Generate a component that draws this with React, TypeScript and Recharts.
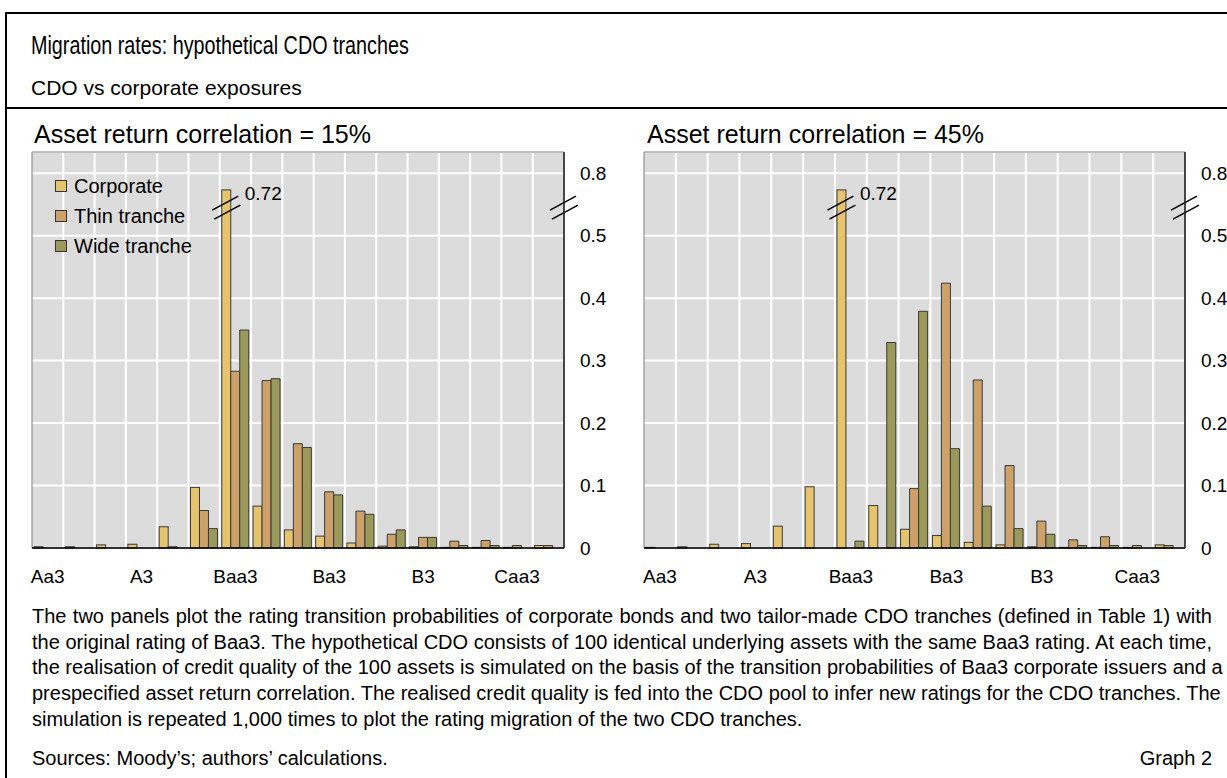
import React from 'react';
import { BarChart, Bar, XAxis, YAxis, CartesianGrid, Legend, ReferenceArea, ReferenceLine, LabelList } from 'recharts';

// rating notches after one year, starting from Baa3
const ratings = ['Aa3', 'A1', 'A2', 'A3', 'Baa1', 'Baa2', 'Baa3', 'Ba1', 'Ba2', 'Ba3', 'B1', 'B2', 'B3', 'Caa1', 'Caa2', 'Caa3', 'Ca-C'];

// asset return correlation = 15%
const corporate15 = [0.002, 0.002, 0.005, 0.006, 0.034, 0.097, 0.72, 0.067, 0.029, 0.019, 0.008, 0.003, 0.002, 0.001, 0.001, 0.001, 0.004];
const thin15 = [0, 0, 0, 0, 0.002, 0.06, 0.283, 0.268, 0.167, 0.09, 0.059, 0.022, 0.017, 0.011, 0.012, 0.004, 0.004];
const wide15 = [0, 0, 0, 0, 0, 0.031, 0.349, 0.271, 0.161, 0.085, 0.054, 0.029, 0.017, 0.004, 0.004, 0, 0];

// asset return correlation = 45%
const corporate45 = [0.001, 0.002, 0.006, 0.007, 0.035, 0.098, 0.72, 0.068, 0.03, 0.02, 0.009, 0.005, 0.002, 0.001, 0.001, 0.001, 0.005];
const thin45 = [0, 0, 0, 0, 0, 0, 0, 0, 0.095, 0.424, 0.269, 0.132, 0.043, 0.013, 0.018, 0.004, 0.004];
const wide45 = [0, 0, 0, 0, 0, 0, 0.011, 0.329, 0.379, 0.159, 0.067, 0.031, 0.022, 0.004, 0.004, 0, 0];

const yTickValues = [0, 0.1, 0.2, 0.3, 0.4, 0.5, 0.8];
const xTickEvery = 3;

const series = [
  { key: 'corporate', name: 'Corporate', color: '#e6c46e' },
  { key: 'thin', name: 'Thin tranche', color: '#cca26a' },
  { key: 'wide', name: 'Wide tranche', color: '#9c9a5a' },
];

const FONT = '"Liberation Sans", Arial, Helvetica, sans-serif';
const PLOT_BG = '#dcdcdc';
const BAR_EDGE = '#3a3a3a';

// broken axis: 0.5 -> 0.8 squeezed into one grid step
const AXIS_BREAK = 0.5;
const SQUEEZE = 3;
const BREAK_MARK = 0.545;
const Y_TOP = 0.634;
const brk = (v: number) => (v <= AXIS_BREAK ? v : AXIS_BREAK + (v - AXIS_BREAK) / SQUEEZE);
const unbrk = (v: number) => (v <= AXIS_BREAK ? v : AXIS_BREAK + (v - AXIS_BREAK) * SQUEEZE);
const fmtTick = (v: number) => String(Number(unbrk(v).toFixed(2)));

const buildRows = (corp: number[], thin: number[], wide: number[]) =>
  ratings.map((rating, i) => ({
    rating,
    corporate: brk(corp[i]),
    corporateRaw: corp[i],
    thin: brk(thin[i]),
    wide: brk(wide[i]),
  }));

const BreakMark = ({ cx, cy }: { cx: number; cy: number }) => (
  <g stroke="#000" strokeWidth={1.5}>
    <line x1={cx - 14} y1={cy + 2.5} x2={cx + 12} y2={cy - 11.5} />
    <line x1={cx - 12} y1={cy + 11.5} x2={cx + 14} y2={cy - 2.5} />
  </g>
);

const CorporateBar = (props: any) => {
  const { x, y, width, height, fill, payload } = props;
  if (height == null || height <= 0) return null;
  const bottom = y + height;
  const showBreak = payload && payload.corporateRaw > AXIS_BREAK;
  const breakY = showBreak ? bottom - (BREAK_MARK / payload.corporate) * height : 0;
  return (
    <g>
      <rect x={x} y={y} width={width} height={height} fill={fill} stroke={BAR_EDGE} strokeWidth={1} />
      {showBreak && <BreakMark cx={x + width / 2} cy={breakY} />}
    </g>
  );
};

const AxisBreak = (props: any) => {
  const { x1, x2, y1 } = props;
  return <BreakMark cx={Math.max(x1, x2)} cy={y1} />;
};

const PeakLabel = (props: any) => {
  const { x, y, width, value } = props;
  if (value == null || value <= AXIS_BREAK) return null;
  return (
    <text x={x + width + 14} y={y + 10} fontSize={19} fontFamily={FONT} fill="#000">
      {String(value)}
    </text>
  );
};

const LegendBlock = () => (
  <div style={{ fontFamily: FONT, fontSize: 20, color: '#000' }}>
    {series.map(s => (
      <div key={s.key} style={{ display: 'flex', alignItems: 'center', height: 30 }}>
        <span style={{ width: 10, height: 10, background: s.color, border: '1px solid #333', marginRight: 7, display: 'inline-block' }} />
        {s.name}
      </div>
    ))}
  </div>
);

interface PanelProps {
  rows: ReturnType<typeof buildRows>;
  width: number;
  marginRight: number;
  showLegend?: boolean;
}

function Panel({ rows, width, marginRight, showLegend }: PanelProps) {
  return (
    <BarChart
      width={width}
      height={480}
      data={rows}
      margin={{ top: 42, right: marginRight, bottom: 12, left: 32 }}
      barCategoryGap={2}
      barGap={0}
    >
      <CartesianGrid
        fill={PLOT_BG}
        stroke="#ffffff"
        strokeWidth={2}
        verticalCoordinatesGenerator={({ offset }: any) =>
          ratings.slice(1).map((_, i) => offset.left + ((i + 1) * offset.width) / ratings.length)
        }
      />
      <ReferenceArea y1={0} y2={Y_TOP} fill="none" stroke="#808080" strokeWidth={1} />
      <XAxis
        dataKey="rating"
        interval={xTickEvery - 1}
        tickLine={false}
        tickSize={0}
        tickMargin={22}
        height={30}
        axisLine={{ stroke: '#000', strokeWidth: 1.5 }}
        tick={{ fill: '#000', fontSize: 19, fontFamily: FONT }}
      />
      <YAxis
        orientation="right"
        type="number"
        domain={[0, Y_TOP]}
        ticks={yTickValues.map(brk)}
        tickFormatter={fmtTick}
        tickLine={false}
        tickSize={0}
        tickMargin={16}
        width={50}
        axisLine={{ stroke: '#222', strokeWidth: 1.5 }}
        tick={{ fill: '#000', fontSize: 19, fontFamily: FONT, textAnchor: 'start' }}
      />
      <ReferenceLine y={BREAK_MARK} shape={AxisBreak} />
      {showLegend && (
        <Legend
          layout="vertical"
          align="center"
          verticalAlign="middle"
          content={LegendBlock}
          wrapperStyle={{ left: 55, top: 61, width: 'auto', height: 'auto' }}
        />
      )}
      <Bar dataKey="corporate" name="Corporate" fill={series[0].color} stroke={BAR_EDGE} shape={CorporateBar} isAnimationActive={false}>
        <LabelList dataKey="corporateRaw" content={PeakLabel} />
      </Bar>
      <Bar dataKey="thin" name="Thin tranche" fill={series[1].color} stroke={BAR_EDGE} strokeWidth={1} isAnimationActive={false} />
      <Bar dataKey="wide" name="Wide tranche" fill={series[2].color} stroke={BAR_EDGE} strokeWidth={1} isAnimationActive={false} />
    </BarChart>
  );
}

const noteLines = [
  'The two panels plot the rating transition probabilities of corporate bonds and two tailor-made CDO tranches (defined in Table 1) with',
  'the original rating of Baa3. The hypothetical CDO consists of 100 identical underlying assets with the same Baa3 rating. At each time,',
  'the realisation of credit quality of the 100 assets is simulated on the basis of the transition probabilities of Baa3 corporate issuers and a',
  'prespecified asset return correlation. The realised credit quality is fed into the CDO pool to infer new ratings for the CDO tranches. The',
  'simulation is repeated 1,000 times to plot the rating migration of the two CDO tranches.',
];

export default function App() {
  const rows15 = buildRows(corporate15, thin15, wide15);
  const rows45 = buildRows(corporate45, thin45, wide45);

  return (
    <div style={{ position: 'absolute', left: 0, top: 0, width: 1227, height: 778, overflow: 'hidden', background: '#fff', fontFamily: FONT, color: '#000' }}>
      {/* frame */}
      <div style={{ position: 'absolute', left: 5, top: 12, width: 1300, height: 900, borderLeft: '2px solid #000', borderTop: '2px solid #000' }} />
      <div style={{ position: 'absolute', left: 5, top: 107, width: 1300, height: 2, background: '#000' }} />

      <div style={{ position: 'absolute', left: 31, top: 32, fontSize: 26, lineHeight: 1, whiteSpace: 'nowrap', transform: 'scaleX(0.76)', transformOrigin: 'left top' }}>
        Migration rates: hypothetical CDO tranches
      </div>
      <div style={{ position: 'absolute', left: 31, top: 77, fontSize: 21, lineHeight: 1, whiteSpace: 'nowrap' }}>
        CDO vs corporate exposures
      </div>

      <div style={{ position: 'absolute', left: 34, top: 122, fontSize: 25, lineHeight: 1, whiteSpace: 'nowrap' }}>
        Asset return correlation = 15%
      </div>
      <div style={{ position: 'absolute', left: 647, top: 122, fontSize: 25, lineHeight: 1, whiteSpace: 'nowrap' }}>
        Asset return correlation = 45%
      </div>

      <div style={{ position: 'absolute', left: 0, top: 110 }}>
        <Panel rows={rows15} width={620} marginRight={6} showLegend />
      </div>
      <div style={{ position: 'absolute', left: 612, top: 110 }}>
        <Panel rows={rows45} width={660} marginRight={37} />
      </div>

      <div style={{ position: 'absolute', left: 32, top: 604, width: 1180, fontSize: 20, lineHeight: '25.7px' }}>
        {noteLines.map((line, i) => (
          <div
            key={i}
            style={{
              textAlign: 'justify',
              textAlignLast: i < noteLines.length - 1 ? 'justify' : 'left',
              whiteSpace: 'nowrap',
            }}
          >
            {line}
          </div>
        ))}
      </div>

      <div style={{ position: 'absolute', left: 32, top: 748, fontSize: 20, lineHeight: 1, whiteSpace: 'nowrap' }}>
        Sources: Moody’s; authors’ calculations.
      </div>
      <div style={{ position: 'absolute', left: 1212, top: 748, fontSize: 20, lineHeight: 1, whiteSpace: 'nowrap', transform: 'translateX(-100%)' }}>
        Graph 2
      </div>
    </div>
  );
}
